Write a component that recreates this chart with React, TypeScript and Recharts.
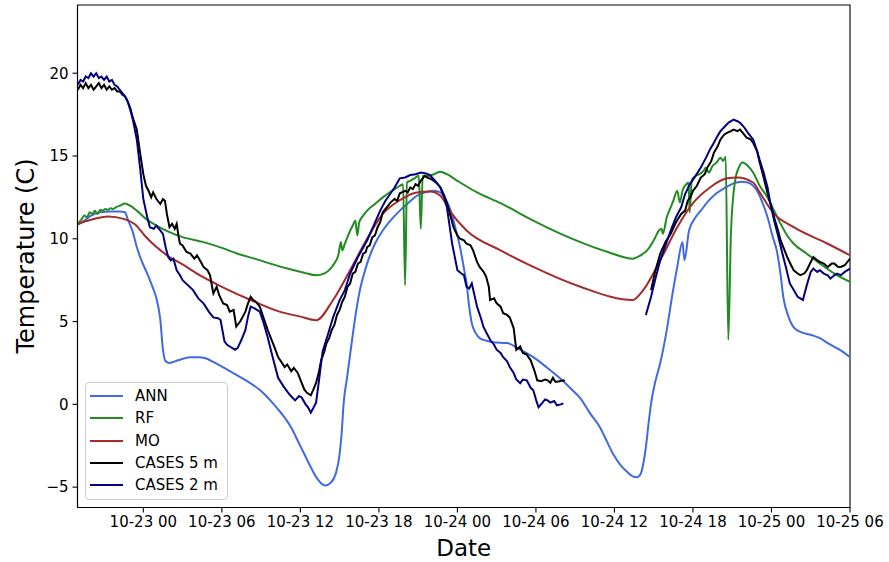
import React from 'react';
import { LineChart, Line, XAxis, YAxis, ReferenceArea, Legend } from 'recharts';

type P = [number, number | null];

const xTickHours = [0, 6, 12, 18, 24, 30, 36, 42, 48, 54];
const xTickLabels = ['10-23 00', '10-23 06', '10-23 12', '10-23 18', '10-24 00', '10-24 06', '10-24 12', '10-24 18', '10-25 00', '10-25 06'];
const yTicks = [-5, 0, 5, 10, 15, 20];

const annPts: P[] = [
  [-5.0, 10.85], [-4.5, 11.1], [-4.0, 11.4], [-3.3, 11.6], [-2.5, 11.65], [-1.8, 11.65], [-1.4, 11.6], [-1.2, 11.2],
  [-0.8, 10.4], [-0.5, 9.5], [-0.1, 8.6], [0.3, 7.9], [0.7, 7.1], [1.0, 6.4], [1.3, 5.1], [1.5, 3.3], [1.7, 2.6],
  [2.0, 2.5], [2.65, 2.66], [3.6, 2.85], [4.2, 2.85], [4.7, 2.8], [5.5, 2.5], [6.5, 2.05], [7.4, 1.65], [8.2, 1.27],
  [9.0, 0.8], [9.7, 0.24], [10.3, -0.3], [10.8, -0.8], [11.3, -1.4], [11.8, -2.2], [12.3, -3.0], [12.8, -3.8],
  [13.3, -4.5], [13.9, -4.9], [14.3, -4.75], [14.7, -4.2], [15.0, -3.0], [15.15, -1.8], [15.3, 0.0], [15.6, 1.8],
  [15.9, 3.6], [16.2, 5.3], [16.5, 6.7], [17.1, 8.5], [17.7, 9.7], [18.3, 10.5], [19.0, 11.2], [19.6, 11.7],
  [20.3, 12.2], [20.9, 12.6], [21.5, 12.8], [22.2, 12.9], [22.7, 12.8], [23.0, 12.5], [23.4, 11.9], [23.8, 10.8],
  [24.2, 9.5], [24.5, 8.2], [24.7, 7.3], [24.9, 5.9], [25.1, 4.9], [25.4, 4.3], [25.7, 4.0], [26.2, 3.85],
  [26.7, 3.75], [27.8, 3.7], [28.8, 3.3], [29.8, 2.85], [30.8, 2.25], [31.8, 1.6], [32.6, 1.0], [33.4, 0.36],
  [34.1, -0.5], [34.9, -1.4], [35.4, -2.2], [35.9, -3.0], [36.5, -3.7], [37.0, -4.1], [37.4, -4.35], [37.7, -4.4],
  [38.0, -4.2], [38.2, -3.6], [38.4, -2.6], [38.6, -1.2], [38.8, 0.06], [39.1, 1.3], [39.5, 2.5], [40.0, 4.5],
  [40.4, 6.5], [40.8, 8.3], [41.2, 9.8], [41.35, 8.7], [41.7, 10.5], [42.2, 11.3], [42.6, 11.7], [43.2, 12.3],
  [43.8, 12.75], [44.5, 13.1], [45.1, 13.35], [45.7, 13.45], [46.2, 13.4], [46.6, 13.2], [46.9, 12.9], [47.3, 12.2],
  [47.7, 11.3], [48.1, 10.1], [48.4, 9.3], [48.7, 7.8], [48.9, 6.5], [49.3, 5.3], [49.7, 4.65], [50.3, 4.35],
  [51.0, 4.2], [51.7, 4.0], [52.3, 3.7], [53.2, 3.3], [54.0, 2.85],
];

const rfPts: P[] = [
  [-5.0, 10.9], [-4.7, 11.2], [-4.5, 11.4], [-4.3, 11.3], [-4.1, 11.6], [-3.9, 11.5], [-3.7, 11.7], [-3.5, 11.5],
  [-3.3, 11.75], [-3.1, 11.7], [-2.9, 11.8], [-2.7, 11.75], [-2.5, 11.85], [-2.3, 11.8], [-2.1, 11.9], [-1.8, 12.0],
  [-1.4, 12.13], [-1.0, 12.0], [-0.5, 11.7], [0.2, 11.2], [1.0, 10.8], [2.0, 10.4], [3.0, 10.1], [4.6, 9.8],
  [6.0, 9.45], [7.2, 9.1], [8.5, 8.8], [9.7, 8.5], [11.0, 8.2], [12.3, 7.95], [13.2, 7.8], [13.8, 7.9], [14.5, 8.4],
  [14.9, 9.0], [15.1, 9.8], [15.2, 9.3], [15.4, 9.7], [15.7, 10.3], [16.0, 10.8], [16.2, 11.1], [16.35, 10.2],
  [16.5, 11.0], [16.8, 11.4], [17.1, 11.7], [17.7, 12.1], [18.3, 12.5], [19.0, 12.9], [19.6, 13.2], [19.85, 13.3],
  [20.0, 7.2], [20.15, 13.4], [20.4, 13.5], [20.8, 13.7], [21.05, 13.8], [21.2, 10.6], [21.35, 13.8], [21.7, 13.8],
  [22.2, 13.9], [22.7, 14.05], [23.2, 13.9], [24.0, 13.5], [25.5, 12.8], [27.3, 12.15], [29.8, 11.1], [31.9, 10.3],
  [33.4, 9.8], [35.5, 9.2], [37.4, 8.8], [38.0, 9.0], [38.5, 9.3], [39.0, 9.9], [39.4, 10.5], [39.6, 10.6],
  [39.7, 10.3], [40.0, 11.3], [40.3, 11.9], [40.5, 12.3], [40.8, 12.9], [41.0, 12.2], [41.2, 12.9], [41.5, 13.3],
  [41.65, 13.4], [41.75, 11.6], [41.9, 13.5], [42.2, 13.8], [42.5, 13.9], [42.8, 14.1], [43.0, 14.3], [43.2, 14.0],
  [43.5, 14.4], [43.8, 14.6], [44.1, 14.9], [44.3, 14.7], [44.5, 14.95], [44.7, 3.9], [44.9, 10.3], [45.2, 13.4],
  [45.5, 14.3], [45.8, 14.6], [46.2, 14.4], [46.6, 14.0], [47.1, 13.2], [47.7, 12.5], [48.2, 11.7], [48.7, 10.9],
  [49.2, 10.2], [49.7, 9.7], [50.7, 9.1], [51.7, 8.5], [52.8, 7.9], [54.0, 7.4],
];

const moPts: P[] = [
  [-5.0, 10.9], [-4.0, 11.15], [-2.7, 11.35], [-1.5, 11.2], [-0.6, 10.85], [0.1, 10.2], [1.0, 9.5], [2.0, 8.9],
  [3.0, 8.45], [4.3, 7.8], [6.0, 7.1], [8.2, 6.3], [10.4, 5.6], [12.0, 5.3], [13.2, 5.08], [14.5, 6.3], [15.8, 8.1],
  [17.1, 10.0], [18.3, 11.5], [19.6, 12.33], [20.9, 12.8], [21.9, 12.85], [22.7, 12.6], [23.4, 11.7], [24.7, 10.5],
  [27.3, 9.3], [29.8, 8.3], [33.4, 7.1], [37.4, 6.3], [38.2, 6.9], [39.5, 8.7], [40.8, 10.7], [42.0, 12.15],
  [43.3, 13.1], [44.6, 13.65], [45.4, 13.7], [46.6, 13.4], [47.1, 12.8], [48.1, 11.6], [49.7, 10.7], [52.3, 9.7],
  [54.0, 9.0],
];

const cases5Pts: P[] = [
  [-5.0, 19.0], [-4.8, 19.3], [-4.6, 19.1], [-4.4, 19.4], [-4.2, 19.1], [-4.0, 19.3], [-3.8, 19.0], [-3.6, 19.2],
  [-3.4, 19.4], [-3.2, 19.1], [-3.0, 19.3], [-2.8, 19.0], [-2.6, 19.2], [-2.4, 19.0], [-2.2, 19.1], [-2.0, 18.9],
  [-1.8, 18.9], [-1.6, 18.7], [-1.4, 18.6], [-1.2, 18.3], [-1.0, 17.9], [-0.8, 17.3], [-0.5, 16.6], [-0.25, 15.2],
  [0.0, 13.9], [0.2, 13.2], [0.4, 12.9], [0.6, 12.5], [0.75, 12.8], [1.0, 12.4], [1.3, 12.1], [1.5, 12.4],
  [1.65, 12.3], [1.8, 11.5], [2.0, 10.7], [2.2, 10.9], [2.4, 10.6], [2.55, 10.9], [2.7, 10.1], [2.8, 9.7],
  [3.0, 9.6], [3.3, 9.2], [3.6, 9.1], [3.9, 8.8], [4.1, 9.0], [4.4, 8.6], [4.6, 8.3], [4.9, 8.1], [5.1, 7.8],
  [5.3, 6.9], [5.35, 6.7], [5.6, 7.1], [5.8, 6.6], [6.1, 6.1], [6.4, 6.0], [6.6, 5.6], [6.9, 5.7], [7.1, 4.7],
  [7.4, 5.0], [7.6, 5.3], [7.8, 5.6], [8.0, 6.1], [8.2, 6.5], [8.4, 6.3], [8.6, 6.2], [8.9, 5.9], [9.2, 5.2],
  [9.5, 4.5], [9.8, 3.9], [10.0, 3.5], [10.3, 2.85], [10.6, 2.5], [10.8, 2.25], [11.0, 2.4], [11.3, 2.0],
  [11.5, 2.2], [11.8, 1.9], [12.0, 1.5], [12.3, 0.9], [12.5, 0.7], [12.8, 0.55], [13.0, 0.9], [13.2, 1.3],
  [13.4, 1.9], [13.6, 2.7], [13.8, 3.1], [14.0, 3.7], [14.2, 4.0], [14.4, 4.5], [14.6, 4.8], [14.8, 5.4],
  [15.0, 5.7], [15.2, 6.2], [15.4, 6.5], [15.6, 7.1], [15.8, 7.3], [16.0, 7.9], [16.2, 8.0], [16.4, 8.5],
  [16.6, 8.6], [16.8, 9.1], [17.0, 9.2], [17.1, 9.5], [17.3, 9.6], [17.5, 10.1], [17.7, 10.2], [17.9, 10.7],
  [18.1, 11.0], [18.3, 11.6], [18.6, 11.9], [18.9, 12.2], [19.2, 12.4], [19.4, 12.3], [19.6, 12.75], [20.0, 12.9],
  [20.2, 12.8], [20.4, 13.1], [20.6, 13.0], [20.8, 13.3], [21.0, 13.2], [21.2, 13.5], [21.5, 13.8], [21.7, 13.7],
  [22.0, 13.6], [22.2, 13.5], [22.5, 13.3], [22.7, 13.1], [23.0, 12.6], [23.2, 12.15], [23.5, 11.3], [23.7, 10.7],
  [24.0, 10.2], [24.2, 10.0], [24.5, 9.9], [24.7, 9.7], [25.0, 9.6], [25.2, 9.3], [25.5, 8.6], [25.7, 8.3],
  [26.0, 8.0], [26.2, 7.7], [26.4, 7.1], [26.5, 6.3], [26.8, 6.4], [27.0, 6.1], [27.3, 5.9], [27.5, 5.5],
  [27.8, 5.4], [28.0, 5.25], [28.3, 4.6], [28.5, 3.3], [28.8, 3.5], [29.0, 3.1], [29.3, 3.0], [29.6, 2.66],
  [29.9, 2.0], [30.1, 1.45], [30.4, 1.4], [30.7, 1.5], [30.9, 1.45], [31.1, 1.3], [31.3, 1.6], [31.5, 1.35],
  [31.8, 1.4], [32.1, 1.45], [32.2, 1.4],
  [35.0, null],
  [38.8, 6.9], [39.1, 8.0], [39.5, 9.1], [39.9, 9.8], [40.3, 10.3], [40.7, 11.0], [41.1, 11.5], [41.4, 11.7],
  [41.6, 12.3], [41.8, 12.5], [42.0, 12.9], [42.3, 13.2], [42.6, 13.7], [42.9, 13.9], [43.1, 14.3], [43.4, 14.7],
  [43.6, 15.2], [43.9, 15.6], [44.1, 16.0], [44.4, 16.3], [44.6, 16.4], [44.9, 16.5], [45.1, 16.6], [45.4, 16.5],
  [45.6, 16.6], [45.9, 16.3], [46.1, 16.1], [46.4, 16.0], [46.6, 15.8], [46.9, 15.3], [47.1, 14.6], [47.4, 13.7],
  [47.7, 12.75], [48.0, 11.9], [48.2, 11.3], [48.5, 10.5], [48.7, 9.9], [49.0, 9.3], [49.2, 8.9], [49.5, 8.4],
  [49.7, 8.1], [50.0, 7.9], [50.2, 7.8], [50.5, 7.9], [50.7, 8.1], [51.0, 8.6], [51.2, 8.9], [51.5, 8.7],
  [51.7, 8.6], [52.0, 8.5], [52.3, 8.3], [52.6, 8.5], [52.8, 8.5], [53.1, 8.3], [53.3, 8.3], [53.6, 8.4],
  [54.0, 8.8],
];

const cases2Pts: P[] = [
  [-5.0, 19.3], [-4.8, 19.6], [-4.6, 19.5], [-4.4, 19.8], [-4.2, 19.7], [-4.0, 20.0], [-3.8, 19.8], [-3.6, 20.0],
  [-3.4, 19.7], [-3.2, 19.8], [-3.0, 19.6], [-2.8, 19.8], [-2.6, 19.5], [-2.4, 19.6], [-2.2, 19.3], [-2.0, 19.2],
  [-1.8, 19.0], [-1.6, 18.8], [-1.4, 18.6], [-1.2, 18.3], [-1.0, 17.8], [-0.8, 17.2], [-0.5, 16.0], [-0.25, 14.3],
  [0.0, 12.4], [0.3, 11.3], [0.5, 10.7], [0.8, 10.6], [1.0, 10.8], [1.2, 10.6], [1.5, 10.3], [1.7, 9.5],
  [1.9, 8.9], [2.1, 8.7], [2.3, 8.8], [2.55, 8.1], [2.8, 7.8], [3.0, 7.5], [3.4, 7.2], [3.8, 6.9], [4.2, 6.4],
  [4.6, 6.1], [5.0, 5.6], [5.35, 5.25], [5.7, 5.2], [5.9, 5.1], [6.2, 3.8], [6.4, 3.6], [6.7, 3.45], [7.0, 3.3],
  [7.2, 3.4], [7.5, 3.9], [7.8, 4.5], [8.0, 5.3], [8.2, 5.9], [8.5, 5.8], [8.9, 5.6], [9.2, 4.9], [9.5, 4.05],
  [9.9, 2.8], [10.3, 1.6], [10.7, 1.1], [11.1, 0.66], [11.4, 0.4], [11.6, 0.24], [11.9, 0.5], [12.1, 0.42],
  [12.4, 0.0], [12.6, -0.2], [12.8, -0.5], [13.0, -0.2], [13.2, 0.1], [13.4, 1.3], [13.7, 3.2], [14.1, 4.2],
  [14.5, 5.25], [15.0, 6.3], [15.4, 6.9], [15.8, 7.9], [16.4, 8.9], [17.1, 9.9], [17.6, 10.8], [18.1, 11.7],
  [18.5, 12.3], [18.9, 12.75], [19.2, 13.1], [19.6, 13.65], [20.0, 13.7], [20.4, 13.85], [20.8, 13.9],
  [21.2, 14.0], [21.6, 13.95], [21.9, 13.85], [22.3, 13.5], [22.7, 13.1], [23.0, 12.5], [23.2, 11.9],
  [23.4, 10.8], [23.6, 9.7], [24.0, 8.1], [24.3, 7.9], [24.5, 7.8], [24.7, 7.1], [24.9, 7.0], [25.1, 7.3],
  [25.3, 6.6], [25.5, 5.9], [25.8, 5.2], [26.0, 4.66], [26.3, 4.2], [26.5, 3.9], [26.8, 3.6], [27.0, 3.3],
  [27.3, 3.1], [27.5, 2.85], [27.8, 2.6], [28.0, 2.25], [28.3, 1.9], [28.5, 1.5], [28.8, 1.27], [29.0, 1.5],
  [29.3, 1.45], [29.6, 1.0], [29.8, 0.85], [30.0, 0.3], [30.2, -0.18], [30.5, 0.1], [30.7, 0.3], [30.9, 0.24],
  [31.1, 0.1], [31.4, 0.2], [31.6, -0.06], [31.9, 0.0], [32.1, 0.06],
  [35.0, null],
  [38.4, 5.4], [38.8, 6.5], [39.1, 7.5], [39.5, 8.7], [39.9, 9.6], [40.3, 10.5], [40.7, 11.3], [41.1, 11.9],
  [41.4, 12.7], [41.8, 13.35], [42.2, 13.8], [42.6, 14.3], [43.0, 14.9], [43.3, 15.4], [43.6, 15.8], [43.8, 16.1],
  [44.1, 16.5], [44.4, 16.75], [44.7, 17.0], [45.1, 17.2], [45.4, 17.1], [45.6, 17.0], [45.9, 16.75], [46.2, 16.4],
  [46.6, 16.0], [46.9, 15.3], [47.1, 14.75], [47.4, 14.0], [47.7, 13.1], [47.9, 12.2], [48.2, 11.1], [48.5, 10.2],
  [48.9, 8.9], [49.1, 8.3], [49.4, 7.3], [49.7, 6.9], [50.0, 6.5], [50.2, 6.4], [50.4, 6.3], [50.7, 7.2],
  [51.0, 8.0], [51.2, 8.2], [51.5, 8.0], [51.7, 8.1], [52.0, 7.9], [52.3, 7.8], [52.5, 7.6], [52.8, 7.8],
  [53.0, 7.9], [53.3, 7.8], [53.6, 8.0], [54.0, 8.2],
];

const seriesNames = ['ANN', 'RF', 'MO', 'CASES 5 m', 'CASES 2 m'];
const seriesColors = ['#4169e1', '#228b22', '#a52a2a', '#000000', '#000080'];
const seriesPts = [annPts, rfPts, moPts, cases5Pts, cases2Pts];
const seriesCurves: ('monotone' | 'linear')[] = ['monotone', 'monotone', 'monotone', 'linear', 'linear'];

const X_MIN = -5.03;
const X_MAX = 54;
const Y_MIN = -6.23;
const Y_MAX = 24.12;

const FONT = 'DejaVu Sans, sans-serif';

const toRows = (pts: P[]) => pts.map(([t, v]) => ({ t, v }));

const fmtX = (h: number) => {
  const i = xTickHours.indexOf(h);
  return i >= 0 ? xTickLabels[i] : '';
};
const fmtY = (v: number) => (v < 0 ? `\u2212${Math.abs(v)}` : `${v}`);

const renderLegend = () => (
  <div
    style={{
      width: 143,
      height: 118,
      boxSizing: 'border-box',
      border: '1px solid #cccccc',
      borderRadius: 4,
      background: 'rgba(255,255,255,0.8)',
      position: 'relative',
      fontFamily: FONT,
      fontSize: 15,
      color: '#000',
    }}
  >
    {seriesNames.map((name, i) => (
      <div
        key={name}
        style={{
          position: 'absolute',
          left: 4,
          top: 1.7 + i * 22.4,
          height: 22,
          display: 'flex',
          alignItems: 'center',
          whiteSpace: 'nowrap',
        }}
      >
        <div style={{ width: 33, height: 2, background: seriesColors[i] }} />
        <span style={{ marginLeft: 12, lineHeight: '22px' }}>{name}</span>
      </div>
    ))}
  </div>
);

export default function App() {
  return (
    <div style={{ position: 'absolute', left: 0, top: 0, width: 889, height: 562, background: '#fff' }}>
      <LineChart width={889} height={562} margin={{ top: 5, right: 39, bottom: 0, left: 0 }}>
        <XAxis
          type="number"
          dataKey="t"
          domain={[X_MIN, X_MAX]}
          allowDataOverflow
          ticks={xTickHours}
          tickFormatter={fmtX}
          height={54.5}
          tickSize={5}
          tickMargin={4}
          interval={0}
          axisLine={{ stroke: '#000', strokeWidth: 1.1 }}
          tickLine={{ stroke: '#000', strokeWidth: 1.1 }}
          tick={{ fontSize: 15, fill: '#000', fontFamily: FONT }}
        />
        <YAxis
          type="number"
          domain={[Y_MIN, Y_MAX]}
          allowDataOverflow
          ticks={yTicks}
          tickFormatter={fmtY}
          width={77.5}
          tickSize={5}
          tickMargin={4}
          interval={0}
          axisLine={{ stroke: '#000', strokeWidth: 1.1 }}
          tickLine={{ stroke: '#000', strokeWidth: 1.1 }}
          tick={{ fontSize: 15, fill: '#000', fontFamily: FONT }}
        />
        <ReferenceArea
          x1={X_MIN}
          x2={X_MAX}
          y1={Y_MIN}
          y2={Y_MAX}
          fill="none"
          fillOpacity={0}
          stroke="#000"
          strokeWidth={1.1}
          ifOverflow="visible"
        />
        {seriesNames.map((name, i) => (
          <Line
            key={name}
            name={name}
            data={toRows(seriesPts[i])}
            dataKey="v"
            type={seriesCurves[i]}
            stroke={seriesColors[i]}
            strokeWidth={2}
            dot={false}
            activeDot={false}
            connectNulls={false}
            isAnimationActive={false}
          />
        ))}
        <Legend
          layout="vertical"
          align="center"
          verticalAlign="middle"
          content={renderLegend}
          wrapperStyle={{ left: 85, top: 382, width: 143, height: 118, position: 'absolute' }}
        />
      </LineChart>
      <svg
        width={889}
        height={562}
        style={{ position: 'absolute', left: 0, top: 0, pointerEvents: 'none' }}
      >
        <text x={463.75} y={556} textAnchor="middle" fontFamily={FONT} fontSize={23} fill="#000">
          Date
        </text>
        <text
          x={0}
          y={0}
          transform="translate(34,256) rotate(-90)"
          textAnchor="middle"
          fontFamily={FONT}
          fontSize={24}
          fill="#000"
        >
          Temperature (C)
        </text>
      </svg>
    </div>
  );
}
